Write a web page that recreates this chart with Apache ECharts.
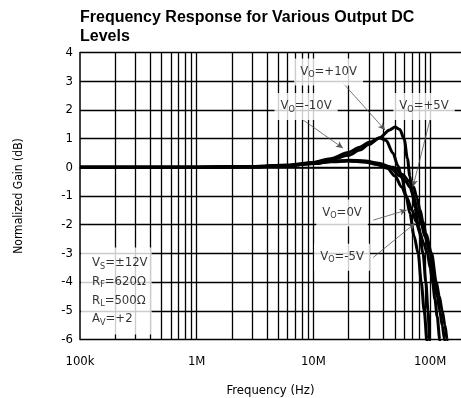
<!DOCTYPE html>
<html><head><meta charset="utf-8">
<script src="https://cdn.jsdelivr.net/npm/echarts@6/dist/echarts.min.js"></script>
<style>html,body{margin:0;padding:0;background:#fff}#c{width:461px;height:398px}</style>
</head><body><div id="c"></div>
<script>
// Frequencies in MHz, gains in dB
const fP10 = [0.1,1,3,6,10,14,20,25,30,37,45,50,55,60,64,67,70,74,80,87,92,96,99,100];
const gP10 = [0,0,0.02,0.06,0.15,0.25,0.42,0.6,0.8,1.03,1.3,1.4,1.32,0.98,0.3,-0.3,-0.8,-1.4,-2.1,-3.0,-4.0,-5.0,-6.0,-6.3];
const fM10 = [0.1,1,3,6,10,14,20,25,30,37,42,48,53,57,62,67,73,79,84,89,94,95];
const gM10 = [0,0,0.03,0.08,0.17,0.3,0.52,0.7,0.87,1.02,0.93,0.5,0.05,-0.33,-0.95,-1.6,-2.4,-3.0,-4.0,-5.0,-6.0,-6.3];
const f0V = [0.1,1,3,6,10,14,20,28,35,43,50,57,63,70,76,82,88,95,100,105,110,115,121,123];
const g0V = [0,0,0.02,0.06,0.13,0.19,0.22,0.18,0.1,-0.03,-0.3,-0.68,-1.05,-1.49,-1.9,-2.3,-2.65,-3.0,-3.5,-4.0,-4.6,-5.2,-6.0,-6.3];
const fM5 = [0.1,1,3,6,10,14,20,28,35,45,55,62,67,72,78,84,90,100,108,115,121,127,133,135];
const gM5 = [0,0,0.02,0.06,0.13,0.2,0.23,0.2,0.13,0.0,-0.3,-0.5,-0.68,-1.0,-1.49,-1.95,-2.4,-3.0,-4.0,-4.5,-5.0,-5.5,-6.0,-6.3];
const fP5 = [0.1,1,3,6,10,14,20,28,35,48,58,66,72,77,82,87,92,103,113,120,127,134,140,142];
const gP5 = [0,0,0.02,0.06,0.13,0.2,0.25,0.22,0.15,0.0,-0.25,-0.48,-0.68,-1.05,-1.49,-1.9,-2.3,-3.0,-4.0,-4.5,-5.0,-5.5,-6.0,-6.3];

const xTickLabels = {0.1:'100k', 1:'1M', 10:'10M', 100:'100M'};
const yTicks = [-6,-5,-4,-3,-2,-1,0,1,2,3,4];
const gridFreqs = [0.2,0.3,0.4,0.5,0.6,0.7,0.8,0.9,1,2,3,4,5,6,7,8,9,10,20,30,40,50,60,70,80,90,100];

const noteLabels = ['+10V','-10V','+5V','0V','-5V'];
const noteF = [13.5, 8.65, 88.7, 17.6, 17.6];
const noteG = [3.32, 2.12, 2.12, -1.59, -3.13];

// arrows: from [MHz, dB] -> to [MHz, dB], with curveness
const arrowFrom = [[17.9,2.94],[8.15,1.65],[99.8,1.65],[32.6,-1.84],[32.6,-3.14]];
const arrowTo   = [[41.1,1.30],[17.9,0.67],[71.3,-0.68],[63,-1.49],[74.3,-1.95]];
const arrowCurve = [0, -0.2, 0.45, -0.35, -0.3];

const FN = "'DejaVu Sans Condensed','Liberation Sans Narrow',sans-serif";
const rich = {
  v:{fontFamily:FN,fontSize:13,color:'#000',lineHeight:18},
  s:{fontFamily:FN,fontSize:9,color:'#000',padding:[7,0,0,0],lineHeight:18}
};
function pairs(f,g){return f.map((x,i)=>[x,g[i]]);}
function curve(name,f,g){
  return {name,type:'line',data:pairs(f,g),showSymbol:false,smooth:0.3,smoothMonotone:'x',
    lineStyle:{color:'#000',width:3},z:3,silent:true,clip:true};
}
const chart = echarts.init(document.getElementById('c'),null,{renderer:'canvas'});
chart.setOption({
  animation:false,
  backgroundColor:'#fff',
  title:{text:'Frequency Response for Various Output DC\nLevels',left:80,top:8.5,padding:0,
    textStyle:{fontFamily:"'Liberation Sans',Arial,sans-serif",fontWeight:'bold',fontSize:16,color:'#000',lineHeight:19}},
  grid:{left:80,right:0,top:52.5,bottom:58.5,outerBoundsMode:'none',containLabel:false},
  xAxis:{type:'log',logBase:10,min:0.1,max:184,
    axisLine:{show:true,lineStyle:{color:'#000',width:1.5}},
    axisTick:{show:false},splitLine:{show:false},
    axisLabel:{fontFamily:FN,fontSize:13,color:'#000',margin:16,showMaxLabel:false,
      formatter:v=>xTickLabels[+v.toPrecision(6)]||''},
    name:'Frequency (Hz)',nameLocation:'middle',nameGap:45,
    nameTextStyle:{fontFamily:FN,fontSize:13,color:'#000'}},
  yAxis:{type:'value',min:-6,max:4,interval:1,
    axisLine:{show:true,lineStyle:{color:'#000',width:1.5}},
    axisTick:{show:false},
    splitLine:{show:true,lineStyle:{color:'#000',width:1.3}},
    axisLabel:{fontFamily:FN,fontSize:13,color:'#000',margin:7,
      formatter:v=>yTicks.includes(v)?String(v):''},
    name:'Normalized Gain (dB)',nameLocation:'middle',nameGap:55.5,
    nameTextStyle:{fontFamily:FN,fontSize:12,color:'#000'}},
  series:[
    {type:'line',data:[],z:1,silent:true,
      markLine:{silent:true,symbol:['none','none'],animation:false,label:{show:false},
        lineStyle:{color:'#000',width:1.3,type:'solid'},
        data:gridFreqs.map(v=>({xAxis:v}))}},
    curve('+10V',fP10,gP10),
    curve('-10V',fM10,gM10),
    curve('0V',f0V,g0V),
    curve('-5V',fM5,gM5),
    curve('+5V',fP5,gP5),
    {type:'scatter',symbolSize:0,z:6,silent:true,
      data:noteLabels.map((t,i)=>({value:[noteF[i],noteG[i]],
        label:{show:true,position:'inside',backgroundColor:'#fff',padding:[4,6,5,6],
          formatter:'{v|V}{s|O}{v|='+t+'}',rich}}))},
    {type:'scatter',symbolSize:0,z:6,silent:true,
      data:[{value:[0.1,-4.31],label:{show:true,position:'right',distance:1,backgroundColor:'#fff',
        padding:[6,4,6,11],
        formatter:'{v|V}{s|S}{v|=±12V}\n{v|R}{s|F}{v|=620Ω}\n{v|R}{s|L}{v|=500Ω}\n{v|A}{s|V}{v|=+2}',
        rich:{v:Object.assign({},rich.v,{lineHeight:18.7}),s:Object.assign({},rich.s,{lineHeight:18.7})}}}]},
    {type:'line',data:[],z:7,silent:true,
      markLine:{silent:true,animation:false,symbol:['none','arrow'],symbolSize:[5,7],label:{show:false},
        data:arrowFrom.map((a,i)=>[{coord:a,lineStyle:{color:'#555',width:0.8,type:'solid',curveness:arrowCurve[i]}},
                                   {coord:arrowTo[i]}])}}
  ]
});
</script></body></html>
